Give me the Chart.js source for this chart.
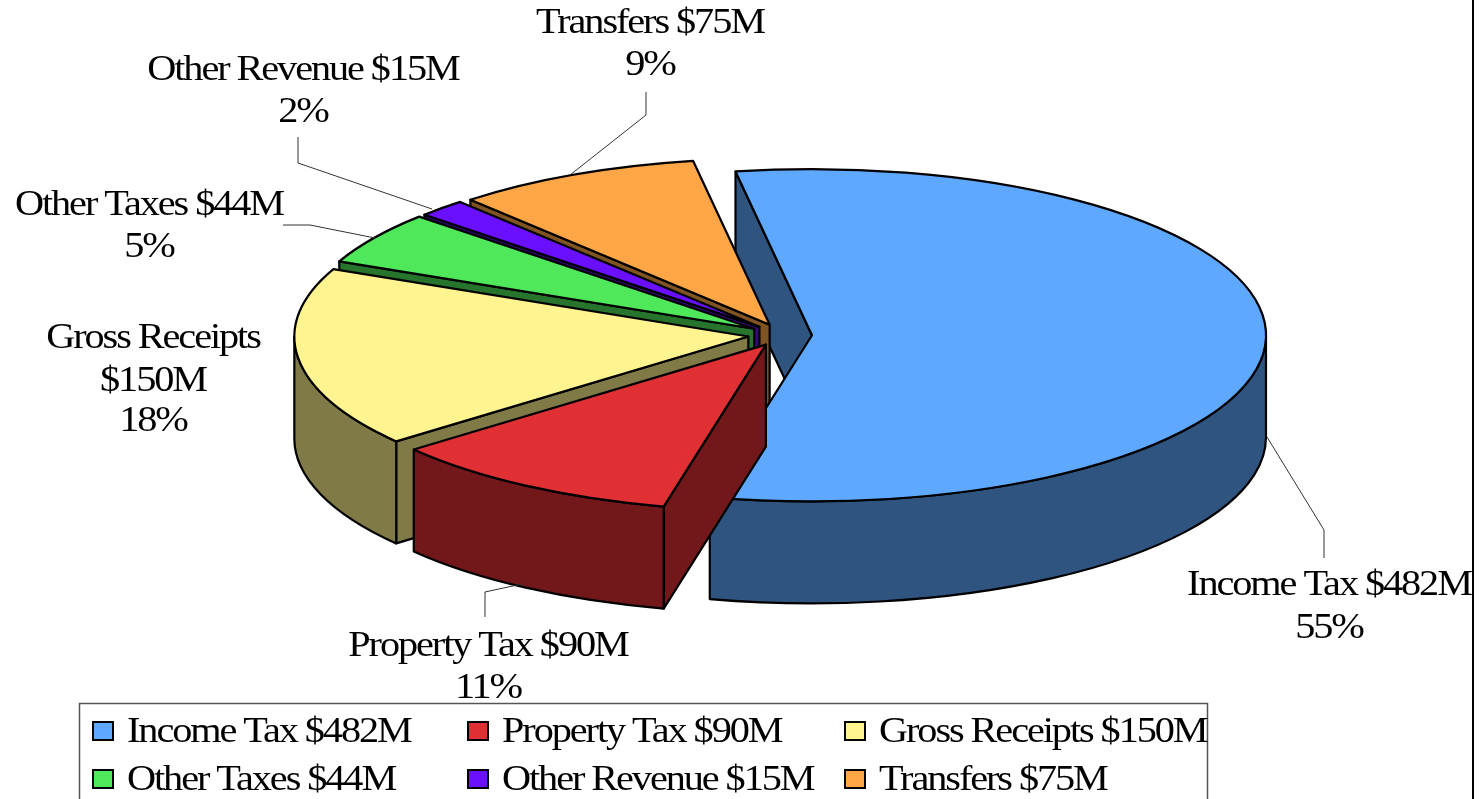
<!DOCTYPE html>
<html><head><meta charset="utf-8">
<style>html,body{margin:0;padding:0;background:#fff;overflow:hidden}#w{position:relative;width:1481px;height:799px}</style>
<script src="https://cdn.jsdelivr.net/npm/chart.js@4/dist/chart.umd.min.js"></script>
</head><body><div id="w"><canvas id="c" width="1481" height="799"></canvas></div>
<script>
const categories = ["Income Tax $482M","Property Tax $90M","Gross Receipts $150M","Other Taxes $44M","Other Revenue $15M","Transfers $75M"];
const values = [482,90,150,44,15,75];
const percents = ["55%","11%","18%","5%","2%","9%"];
const topColors = ["#5FA8FF","#E03033","#FFF48F","#4FE85A","#6A10FF","#FFA646"];
const sideColors = ["#305480","#73181A","#807A47","#27742D","#35087F","#805323"];
const explode = [26,38,38,38,38,38];
const labelLines = [["Income Tax $482M","55%"],["Property Tax $90M","11%"],["Gross Receipts","$150M","18%"],["Other Taxes $44M","5%"],["Other Revenue $15M","2%"],["Transfers $75M","9%"]];

const K = 0.366, K_OFF = 0.3, DEPTH = 102;
const labelPos = [[1329,[595,638]],[488,[656,698]],[153,[348,391,431]],[149,[215,257]],[303,[80,122]],[650,[33,75]]];
const leaders = [[[1267,437],[1324,530],[1324,558]],[[522,584],[485,592],[485,617]],[[375,238],[310,225],[283,225]],[[432,209],[298,163],[298,137]],[[570,175],[646,115],[646,92]]];
const FONT = '35px "Liberation Serif"', SPACING = '-1.8px', STRETCH = 1.15;

const pie3d = {
  id:'pie3d',
  beforeDatasetsDraw(chart){
    const ctx = chart.ctx, arcs = chart.getDatasetMeta(0).data;
    const items = arcs.map((a,i)=>{
      const p = a.getProps(['x','y','startAngle','endAngle','outerRadius'],true);
      const mid = (p.startAngle+p.endAngle)/2, off = explode[i];
      return {i,a0:p.startAngle,a1:p.endAngle,r:p.outerRadius,mid,
        x:p.x+Math.cos(mid)*off, y:p.y+Math.sin(mid)*off*K_OFF};
    }).sort((u,v)=>Math.sin(u.mid)-Math.sin(v.mid));
    ctx.save();
    ctx.lineWidth = 2.2; ctx.strokeStyle = '#000'; ctx.lineJoin = 'round';
    const wall=(s,t)=>{
      const ex=s.x+Math.cos(t)*s.r, ey=s.y+Math.sin(t)*s.r*K;
      ctx.fillStyle = sideColors[s.i];
      ctx.beginPath();ctx.moveTo(s.x,s.y);ctx.lineTo(ex,ey);ctx.lineTo(ex,ey+DEPTH);ctx.lineTo(s.x,s.y+DEPTH);ctx.closePath();ctx.fill();ctx.stroke();
    };
    const big=s=>s.a1-s.a0>Math.PI;
    items.filter(big).forEach(s=>{ if(Math.cos(s.a0)<0) wall(s,s.a0); if(Math.cos(s.a1)>0) wall(s,s.a1); });
    items.forEach(s=>{
      if(!big(s)){ if(Math.cos(s.a0)<0) wall(s,s.a0); if(Math.cos(s.a1)>0) wall(s,s.a1); }
      const r0=Math.max(s.a0,0), r1=Math.min(s.a1,Math.PI);
      if(r1>r0){
        ctx.fillStyle = sideColors[s.i];
        ctx.beginPath();
        ctx.ellipse(s.x,s.y,s.r,s.r*K,0,r0,r1);
        ctx.ellipse(s.x,s.y+DEPTH,s.r,s.r*K,0,r1,r0,true);
        ctx.closePath();ctx.fill();ctx.stroke();
      }
      ctx.fillStyle = topColors[s.i];
      ctx.beginPath();ctx.moveTo(s.x,s.y);
      ctx.ellipse(s.x,s.y,s.r,s.r*K,0,s.a0,s.a1);
      ctx.closePath();ctx.fill();ctx.stroke();
    });
    ctx.restore();
    return false;
  },
  afterDraw(chart){
    const ctx = chart.ctx;
    ctx.save();
    ctx.strokeStyle='#333';ctx.lineWidth=1;
    leaders.forEach(l=>{ctx.beginPath();l.forEach((p,i)=>i?ctx.lineTo(p[0],p[1]):ctx.moveTo(p[0],p[1]));ctx.stroke();});
    ctx.fillStyle='#000';ctx.font=FONT;ctx.textBaseline='alphabetic';ctx.letterSpacing=SPACING;
    const text=(t,x,y)=>{ctx.save();ctx.translate(x,y);ctx.scale(STRETCH,1);ctx.fillText(t,0,0);ctx.restore();};
    ctx.textAlign='center';
    labelLines.forEach((ls,i)=>ls.forEach((t,j)=>text(t,labelPos[i][0],labelPos[i][1][j])));
    ctx.textAlign='left';
    ctx.strokeStyle='#555';ctx.lineWidth=1.5;
    ctx.beginPath();ctx.moveTo(79.5,800);ctx.lineTo(79.5,703.5);ctx.lineTo(1207.5,703.5);ctx.lineTo(1207.5,800);ctx.stroke();
    const colX=[93,468,845], rowY=[722,770];
    categories.forEach((c,i)=>{
      const x=colX[i%3], y=rowY[Math.floor(i/3)];
      ctx.fillStyle=topColors[i];ctx.strokeStyle='#000';ctx.lineWidth=2;
      ctx.fillRect(x,y,20,18);ctx.strokeRect(x,y,20,18);
      ctx.fillStyle='#000';
      text(c,x+34,y+20);
    });
    ctx.strokeStyle='#000';ctx.lineWidth=2;
    ctx.beginPath();ctx.moveTo(1473,0);ctx.lineTo(1473,799);ctx.stroke();
    ctx.restore();
  }
};

new Chart(document.getElementById('c'),{
  type:'pie',
  data:{labels:categories,datasets:[{data:values,backgroundColor:topColors,borderColor:'#000',borderWidth:2,offset:explode,radius:454}]},
  options:{
    responsive:false,animation:false,rotation:-9.7,
    layout:{padding:{left:91,top:0,right:0,bottom:129}},
    plugins:{legend:{display:false},tooltip:{enabled:false},title:{display:false}}
  },
  plugins:[pie3d]
});
</script></body></html>
